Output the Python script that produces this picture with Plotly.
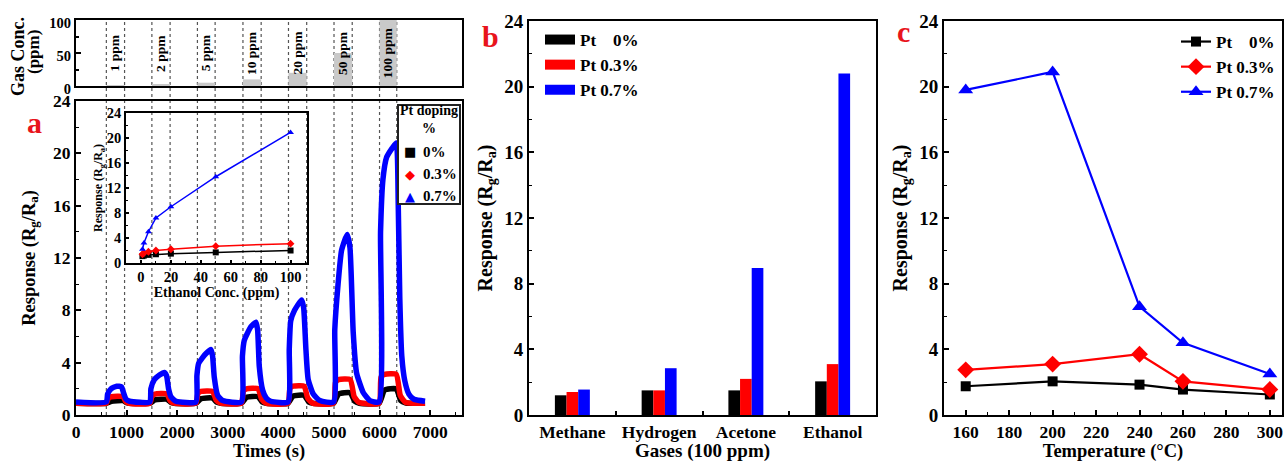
import plotly.graph_objects as go

# ---------------- data ----------------
# panel a : gas pulses
conc_ppm = [1, 2, 5, 10, 20, 50, 100]
conc_labels = ["1 ppm", "2 ppm", "5 ppm", "10 ppm", "20 ppm", "50 ppm", "100 ppm"]
gas_on = [600, 1500, 2400, 3300, 4200, 5100, 6000]
gas_off = [960, 1860, 2750, 3660, 4560, 5460, 6340]

# panel a : dynamic response
blue_t = [0, 600, 625, 692, 804, 900, 940, 990, 1060,
          1460, 1480, 1548, 1650, 1745, 1790, 1830, 1877, 1976,
          2370, 2390, 2425, 2570, 2668, 2700, 2733, 2800, 2900,
          3270, 3290, 3326, 3458, 3557, 3590, 3623, 3689, 3760, 3850,
          4190, 4215, 4245, 4320, 4460, 4500, 4545, 4590, 4690, 4820,
          5090, 5115, 5180, 5250, 5360, 5415, 5480, 5547, 5680, 5810,
          5990, 6020, 6067, 6140, 6250, 6330, 6370, 6400, 6440, 6500, 6580, 6680, 6900]
blue_v = [1.0, 1.0, 1.6, 2.0, 2.2, 2.15, 1.7, 1.2, 1.05,
          1.0, 2.0, 2.7, 3.05, 3.25, 3.0, 2.0, 1.4, 1.05,
          1.0, 3.0, 3.95, 4.7, 5.0, 4.5, 2.9, 1.5, 1.1,
          1.0, 4.5, 5.7, 6.75, 7.1, 6.5, 3.7, 1.9, 1.3, 1.05,
          1.0, 5.0, 7.2, 8.0, 8.8, 8.2, 5.0, 2.7, 1.6, 1.1,
          1.0, 6.5, 10.0, 12.6, 13.8, 12.8, 6.3, 3.2, 1.7, 1.1,
          1.0, 14.0, 18.0, 19.7, 20.4, 20.8, 16.0, 9.0, 4.5, 2.6, 1.6, 1.2, 1.05]

red_t = [0, 600, 640, 700, 930, 980, 1050,
         1460, 1500, 1560, 1800, 1860, 1940,
         2370, 2410, 2470, 2700, 2770, 2860,
         3270, 3310, 3370, 3600, 3670, 3760,
         4190, 4230, 4290, 4510, 4580, 4680,
         5090, 5130, 5190, 5420, 5500, 5600,
         5990, 6030, 6100, 6330, 6410, 6520, 6900]
red_v = [0.9, 0.9, 1.3, 1.4, 1.4, 1.05, 0.9,
         0.9, 1.45, 1.6, 1.6, 1.1, 0.9,
         0.9, 1.65, 1.8, 1.8, 1.15, 0.9,
         0.9, 1.85, 2.0, 2.0, 1.2, 0.9,
         0.9, 2.05, 2.2, 2.2, 1.3, 0.9,
         0.9, 2.5, 2.7, 2.7, 1.4, 0.95,
         0.9, 2.9, 3.1, 3.1, 1.5, 0.95, 0.9]

black_t = [0, 600, 700, 930, 1000, 1060,
           1460, 1560, 1800, 1880, 1940,
           2370, 2470, 2700, 2780, 2860,
           3270, 3370, 3600, 3680, 3760,
           4190, 4290, 4510, 4600, 4680,
           5090, 5190, 5420, 5510, 5600,
           5990, 6100, 6330, 6420, 6520, 6900]
black_v = [0.9, 0.9, 1.05, 1.1, 0.95, 0.9,
           0.9, 1.15, 1.2, 0.95, 0.9,
           0.9, 1.25, 1.3, 0.98, 0.9,
           0.9, 1.35, 1.4, 1.0, 0.9,
           0.9, 1.45, 1.5, 1.0, 0.9,
           0.9, 1.6, 1.7, 1.05, 0.9,
           0.9, 1.9, 2.0, 1.1, 0.92, 0.9]

# panel a inset : response vs ethanol concentration
inset_conc = [1, 2, 5, 10, 20, 50, 100]
inset_pt0 = [1.1, 1.2, 1.3, 1.4, 1.5, 1.7, 2.0]
inset_pt03 = [1.4, 1.6, 1.8, 2.0, 2.2, 2.7, 3.1]
inset_pt07 = [2.2, 3.2, 5.0, 7.2, 9.0, 13.8, 20.9]

# panel b : selectivity
gases = ["Methane", "Hydrogen", "Acetone", "Ethanol"]
gas_pt0 = [1.2, 1.5, 1.5, 2.05]
gas_pt03 = [1.4, 1.5, 2.2, 3.1]
gas_pt07 = [1.55, 2.85, 8.95, 20.8]

# panel c : temperature
temps = [160, 200, 240, 260, 300]
temp_pt0 = [1.75, 2.05, 1.85, 1.55, 1.25]
temp_pt03 = [2.75, 3.1, 3.7, 2.05, 1.55]
temp_pt07 = [19.8, 20.9, 6.6, 4.4, 2.5]

series_names = ["Pt\u00a0\u00a0\u00a0\u00a00%", "Pt 0.3%", "Pt 0.7%"]
doping_names = ["0%", "0.3%", "0.7%"]
doping_glyphs = ["\u25a0", "\u25c6", "\u25b2"]
colors = ["#000000", "#ff0000", "#0000ff"]
symbols = ["square", "diamond", "triangle-up"]

FONT = "Liberation Serif"
W, H = 1284, 462


def px_x(p):
    return p / W


def px_y(p):
    return 1 - p / H


def fnt(size, color="black"):
    return dict(family=FONT, size=size, color=color, weight="bold")


fig = go.Figure()

# top strip: gas concentration bars
fig.add_trace(go.Bar(x=gas_on, y=conc_ppm, width=[b - a for a, b in zip(gas_on, gas_off)],
                     offset=0, marker=dict(color="#c9c9c9", line=dict(width=0)),
                     xaxis="x", yaxis="y", showlegend=False, hoverinfo="skip"))

# main dynamic curves
for t, v, c in [(black_t, black_v, colors[0]), (red_t, red_v, colors[1]), (blue_t, blue_v, colors[2])]:
    fig.add_trace(go.Scatter(x=t, y=v, mode="lines", line=dict(color=c, width=5.5, shape="spline", smoothing=0.5),
                             xaxis="x2", yaxis="y2", showlegend=False))

# inset
for vals, c, s in zip([inset_pt0, inset_pt03, inset_pt07], colors, symbols):
    fig.add_trace(go.Scatter(x=inset_conc, y=vals, mode="lines+markers",
                             line=dict(color=c, width=1.5), marker=dict(color=c, symbol=s, size=6),
                             xaxis="x3", yaxis="y3", showlegend=False))

# panel b bars
for vals, c in zip([gas_pt0, gas_pt03, gas_pt07], colors):
    fig.add_trace(go.Bar(x=gases, y=vals, marker=dict(color=c, line=dict(width=0)),
                         xaxis="x4", yaxis="y4", showlegend=False))
# legend patches for panel b (wide flat patches like the original)
for c, n in zip(colors, series_names):
    fig.add_trace(go.Scatter(x=[None], y=[None], mode="lines", name=n, line=dict(color=c, width=10),
                             xaxis="x4", yaxis="y4", legend="legend2"))

# panel c lines
for vals, c, n, s, sz in zip([temp_pt0, temp_pt03, temp_pt07], colors, series_names, symbols, [10, 13, 13]):
    fig.add_trace(go.Scatter(x=temps, y=vals, name=n, mode="lines+markers",
                             line=dict(color=c, width=2.2), marker=dict(color=c, symbol=s, size=sz),
                             xaxis="x5", yaxis="y5", legend="legend3"))

axis_common = dict(showline=True, linecolor="black", linewidth=2, mirror=True, ticks="inside",
                   ticklen=5, tickwidth=1.5, tickcolor="black", showgrid=False, zeroline=False,
                   automargin=False, tickfont=fnt(17.5), ticklabeloverflow="allow")

xa = [px_x(76), px_x(462)]
xb = [px_x(529), px_x(876)]
xc = [px_x(944), px_x(1282)]
y_strip = [px_y(86), px_y(20)]
y_main = [px_y(415), px_y(101)]
y_bc = [px_y(415), px_y(21)]
x_in = [px_x(126), px_x(307)]
y_in = [px_y(263), px_y(113)]


def minor(dt, ln=3):
    return dict(ticks="inside", dtick=dt, ticklen=ln, tickcolor="black", tickwidth=1.2, showgrid=False)


fig.update_layout(
    template="none",
    width=W, height=H, margin=dict(l=0, r=0, t=0, b=0, autoexpand=False),
    paper_bgcolor="white", plot_bgcolor="rgba(0,0,0,0)",
    font=fnt(15),
    barmode="group", bargap=0.597, bargroupgap=0,
    xaxis=dict(axis_common, domain=xa, range=[0, 7630], anchor="y", showticklabels=False, ticks=""),
    yaxis=dict(axis_common, domain=y_strip, range=[0, 100], anchor="x", tickvals=[0, 50, 100],
               tickfont=fnt(14.5), ticklabelshift=3,
               minor=dict(ticks="inside", tickvals=[25, 75], ticklen=3, tickcolor="black")),
    xaxis2=dict(axis_common, domain=xa, range=[0, 7630], anchor="y2", dtick=1000,
                minor=minor(500),
                title=dict(text="Times (s)", font=fnt(18.5), standoff=2)),
    yaxis2=dict(axis_common, domain=y_main, range=[0, 24], anchor="x2", dtick=4,
                minor=minor(2),
                title=dict(text="Response (R<sub>g</sub>/R<sub>a</sub>)", font=fnt(18.5), standoff=13)),
    xaxis3=dict(axis_common, domain=x_in, range=[-10, 111], anchor="y3", dtick=20,
                tickfont=fnt(14.5), ticklen=3, linewidth=1.5,
                minor=minor(10, 2),
                title=dict(text="Ethanol Conc. (ppm)", font=fnt(14), standoff=0)),
    yaxis3=dict(axis_common, domain=y_in, range=[0, 24], anchor="x3", dtick=4,
                tickfont=fnt(14.5), ticklen=3, linewidth=1.5,
                minor=minor(2, 2),
                title=dict(text="Response (R<sub>g</sub>/R<sub>a</sub>)", font=fnt(12), standoff=0)),
    xaxis4=dict(axis_common, domain=xb, anchor="y4", tickson="boundaries", ticklen=4,
                tickfont=fnt(17.5),
                title=dict(text="Gases (100 ppm)", font=fnt(19), standoff=6)),
    yaxis4=dict(axis_common, domain=y_bc, range=[0, 24], anchor="x4", dtick=4, tickfont=fnt(19),
                minor=minor(2),
                title=dict(text="Response (R<sub>g</sub>/R<sub>a</sub>)", font=fnt(20), standoff=6)),
    xaxis5=dict(axis_common, domain=xc, range=[150, 305.6], anchor="y5", dtick=20, tick0=160,
                tickfont=fnt(17.5),
                minor=minor(10),
                title=dict(text="Temperature (°C)", font=fnt(18.5), standoff=8)),
    yaxis5=dict(axis_common, domain=y_bc, range=[0, 24], anchor="x5", dtick=4, tickfont=fnt(19),
                minor=minor(2),
                title=dict(text="Response (R<sub>g</sub>/R<sub>a</sub>)", font=fnt(20), standoff=6)),
    legend2=dict(x=px_x(540), y=px_y(22), xanchor="left", yanchor="top", bgcolor="rgba(0,0,0,0)",
                 borderwidth=0, font=fnt(17), itemwidth=30, tracegroupgap=0),
    legend3=dict(x=px_x(1176), y=px_y(24), xanchor="left", yanchor="top", bgcolor="rgba(0,0,0,0)",
                 borderwidth=0, font=fnt(17), itemwidth=30, tracegroupgap=0),
)

# dotted vertical lines at gas on/off
shapes = []
for t in gas_on + gas_off:
    shapes.append(dict(type="line", xref="x2", yref="paper", x0=t, x1=t,
                       y0=y_main[0], y1=y_strip[1], layer="below",
                       line=dict(color="#555555", width=1.2, dash="dot")))
# panel a legend frame
shapes.append(dict(type="rect", xref="paper", yref="paper", x0=px_x(398), x1=px_x(460),
                   y0=px_y(204), y1=px_y(105), fillcolor="white", line=dict(color="#222222", width=2),
                   layer="above"))
fig.update_layout(shapes=shapes)

annotations = []
for a, b, lab in zip(gas_on, gas_off, conc_labels):
    annotations.append(dict(x=(a + b) / 2, y=50, xref="x", yref="y", text=lab, textangle=-90,
                            xanchor="center", yanchor="middle", showarrow=False, font=fnt(13.5)))
for lab, xp, yp in [("a", 34, 122), ("b", 490, 36), ("c", 903, 32)]:
    annotations.append(dict(x=px_x(xp), y=px_y(yp), xref="paper", yref="paper", text=lab, showarrow=False,
                            xanchor="center", yanchor="middle", font=fnt(30, "#e8141c")))
# strip y-axis title (two rotated lines, as in the original)
annotations.append(dict(x=px_x(18), y=px_y(57), xref="paper", yref="paper", text="Gas Conc.",
                        textangle=-90, xanchor="center", yanchor="middle", showarrow=False, font=fnt(18)))
annotations.append(dict(x=px_x(34), y=px_y(52), xref="paper", yref="paper", text="(ppm)",
                        textangle=-90, xanchor="center", yanchor="middle", showarrow=False, font=fnt(17)))
# panel a legend content
annotations.append(dict(x=px_x(429), y=px_y(120), xref="paper", yref="paper", text="Pt doping<br>%",
                        xanchor="center", yanchor="middle", showarrow=False, font=fnt(14), align="center"))
for g, n, c, yp in zip(doping_glyphs, doping_names, colors, [152, 174, 196]):
    annotations.append(dict(x=px_x(410), y=px_y(yp), xref="paper", yref="paper", text=g,
                            xanchor="center", yanchor="middle",
                            showarrow=False, font=dict(family="DejaVu Sans", size=13, color=c)))
    annotations.append(dict(x=px_x(421), y=px_y(yp), xref="paper", yref="paper", text=n, xanchor="left",
                            yanchor="middle", showarrow=False, font=fnt(15)))
fig.update_layout(annotations=annotations)

fig.write_html("out.html", config={"displayModeBar": False},
               post_script="document.body.style.margin='0px';document.body.style.overflow='hidden';")
